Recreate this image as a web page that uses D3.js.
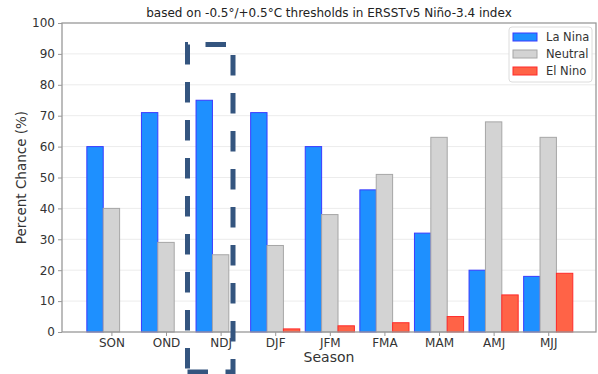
<!DOCTYPE html>
<html>
<head>
<meta charset="utf-8">
<script src="https://cdn.jsdelivr.net/npm/d3@7"></script>
<style>
  body { margin: 0; background: #fff; }
  svg { font-family: "DejaVu Sans", sans-serif; }
</style>
</head>
<body>
<svg id="chart" width="598" height="374"></svg>
<script>
// data
const seasons = ["SON", "OND", "NDJ", "DJF", "JFM", "FMA", "MAM", "AMJ", "MJJ"];
const laNina = [60, 71, 75, 71, 60, 46, 32, 20, 18];
const neutral = [40, 29, 25, 28, 38, 51, 63, 68, 63];
const elNino = [0, 0, 0, 1, 2, 3, 5, 12, 19];
const yTicks = [0, 10, 20, 30, 40, 50, 60, 70, 80, 90, 100];

const series = [
  { name: "La Nina", values: laNina, fill: "#1e90ff", stroke: "#3a3aff", off: -1 },
  { name: "Neutral", values: neutral, fill: "#d3d3d3", stroke: "#a6a6a6", off: 0 },
  { name: "El Nino", values: elNino, fill: "#ff6347", stroke: "#ff2a2a", off: 1 }
];

const plotL = 62, plotR = 596, plotT = 23, plotB = 332;
const barW = 0.3;

const svg = d3.select("#chart");

const x = d3.scaleLinear().domain([-0.905, 8.875]).range([plotL, plotR]);
const y = d3.scaleLinear().domain([0, 100]).range([plotB, plotT]);

// grid
svg.append("g")
  .selectAll("line")
  .data(yTicks.slice(1, -1))
  .join("line")
  .attr("x1", plotL).attr("x2", plotR)
  .attr("y1", d => y(d)).attr("y2", d => y(d))
  .attr("stroke", "#ececec")
  .attr("stroke-width", 1);

// bars
series.forEach(s => {
  svg.append("g")
    .selectAll("rect")
    .data(s.values)
    .join("rect")
    .attr("x", (d, i) => x(i + s.off * barW - barW / 2))
    .attr("width", x(barW) - x(0))
    .attr("y", d => y(d))
    .attr("height", d => y(0) - y(d))
    .attr("fill", s.fill)
    .attr("stroke", s.stroke)
    .attr("stroke-width", 1);
});

// axes
const yAxis = svg.append("g")
  .attr("transform", `translate(${plotL},0)`)
  .call(d3.axisLeft(y).tickValues(yTicks).tickSize(4).tickPadding(3));

const xAxis = svg.append("g")
  .attr("transform", `translate(0,${plotB})`)
  .call(d3.axisBottom(x).tickValues(d3.range(seasons.length))
    .tickFormat(i => seasons[i]).tickSize(4).tickPadding(2));

[yAxis, xAxis].forEach(a => {
  a.select(".domain").remove();
  a.selectAll(".tick line").attr("stroke", "#999");
  a.selectAll(".tick text")
    .attr("fill", "#333")
    .style("font-size", "12px")
    .style("font-family", "DejaVu Sans, sans-serif");
});

// frame
svg.append("rect")
  .attr("x", plotL).attr("y", plotT)
  .attr("width", plotR - plotL).attr("height", plotB - plotT)
  .attr("fill", "none")
  .attr("stroke", "#999")
  .attr("stroke-width", 1.3);

// title and labels
svg.append("text")
  .attr("x", (plotL + plotR) / 2).attr("y", 17)
  .attr("text-anchor", "middle")
  .attr("fill", "#222")
  .style("font-size", "12px")
  .text("based on -0.5°/+0.5°C thresholds in ERSSTv5 Niño-3.4 index");

svg.append("text")
  .attr("x", (plotL + plotR) / 2).attr("y", 362)
  .attr("text-anchor", "middle")
  .attr("fill", "#333")
  .style("font-size", "14px")
  .text("Season");

svg.append("text")
  .attr("transform", `translate(26,${(plotT + plotB) / 2}) rotate(-90)`)
  .attr("text-anchor", "middle")
  .attr("fill", "#333")
  .style("font-size", "13.5px")
  .text("Percent Chance (%)");

// legend
const lg = svg.append("g").attr("transform", "translate(509,27)");
lg.append("rect")
  .attr("width", 83).attr("height", 55).attr("rx", 3)
  .attr("fill", "#fff").attr("fill-opacity", 0.85)
  .attr("stroke", "#dcdcdc");
series.forEach((s, i) => {
  const row = lg.append("g").attr("transform", `translate(4,${10 + i * 17})`);
  row.append("rect")
    .attr("width", 24).attr("height", 8).attr("y", -4)
    .attr("fill", s.fill).attr("stroke", s.stroke);
  row.append("text")
    .attr("x", 33).attr("y", 4)
    .attr("fill", "#333")
    .style("font-size", "11.5px")
    .text(s.name);
});

// dashed highlight around NDJ (drawn from bottom-left, like the original)
const bx0 = 187.5, bx1 = 233, by0 = 372, by1 = 44.5;
svg.append("path")
  .attr("d", `M${bx0},${by0}L${bx1},${by0}L${bx1},${by1}L${bx0},${by1}Z`)
  .attr("fill", "none")
  .attr("stroke", "#34557f")
  .attr("stroke-width", 5)
  .attr("stroke-dasharray", "20.5 17.5");
</script>
</body>
</html>
